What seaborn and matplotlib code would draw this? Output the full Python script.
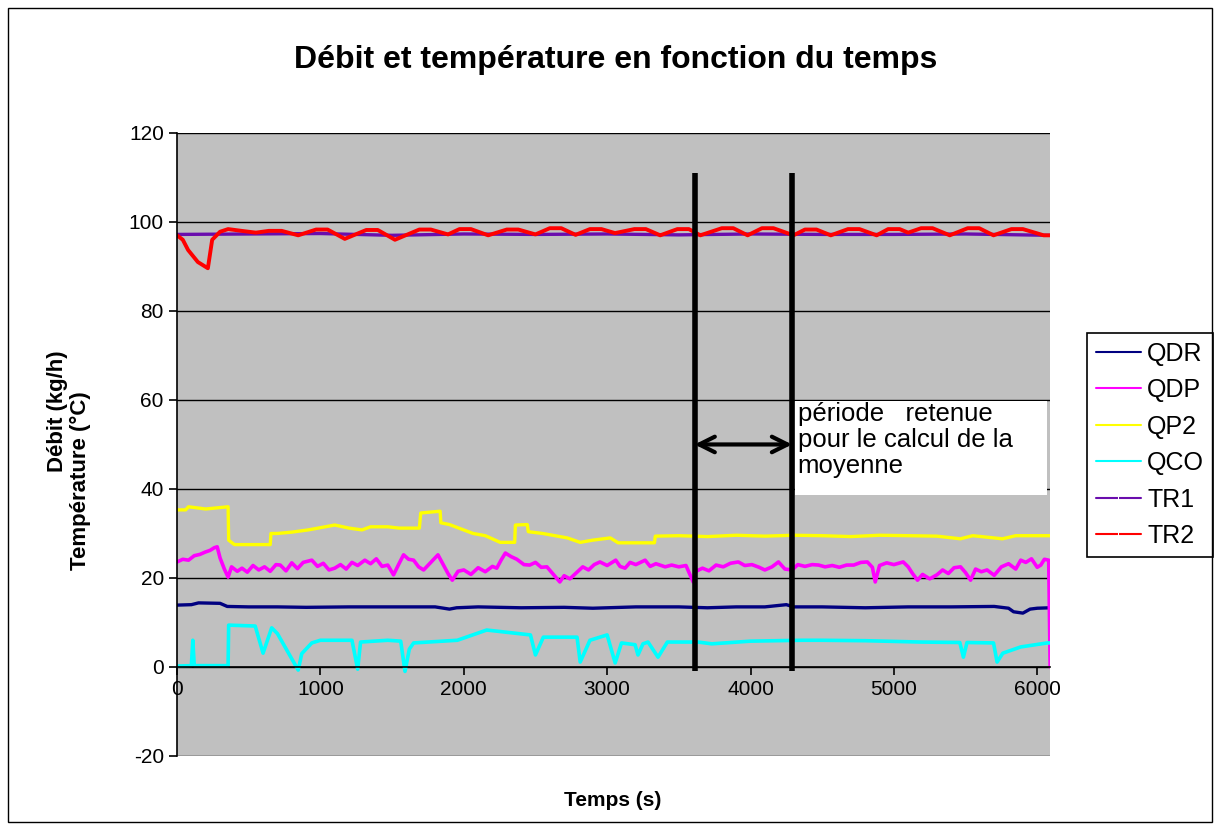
import matplotlib
matplotlib.use("Agg")
import matplotlib.pyplot as plt
from matplotlib.patches import Rectangle
import seaborn as sns
import pandas as pd

# QDR (navy)
qdr_t = [0, 100, 150, 300, 350, 500, 700, 900, 1200, 1500,
         1800, 1900, 1950, 2100, 2400, 2700, 2900, 3200, 3500, 3700,
         3900, 4100, 4250, 4300, 4500, 4800, 5100, 5400, 5700, 5800,
         5835, 5900, 5950, 6000, 6090]
qdr_v = [13.9, 14.0, 14.4, 14.3, 13.6, 13.5, 13.5, 13.4, 13.5, 13.5,
         13.5, 13.0, 13.3, 13.5, 13.3, 13.4, 13.2, 13.5, 13.5, 13.3,
         13.5, 13.5, 14.0, 13.5, 13.5, 13.3, 13.5, 13.5, 13.6, 13.2,
         12.4, 12.1, 13.0, 13.2, 13.3]

# QDP (magenta)
qdp_t = [0, 40, 80, 120, 160, 195, 230, 260, 280, 300,
         330, 356, 380, 420, 453, 490, 530, 570, 610, 650,
         690, 720, 760, 800, 840, 880, 940, 980, 1020, 1060,
         1100, 1140, 1180, 1220, 1260, 1310, 1350, 1390, 1430, 1470,
         1510, 1545, 1580, 1615, 1650, 1685, 1720, 1770, 1820, 1860,
         1890, 1920, 1960, 2000, 2050, 2100, 2150, 2200, 2230, 2260,
         2290, 2330, 2370, 2420, 2460, 2500, 2540, 2580, 2620, 2670,
         2700, 2740, 2790, 2830, 2870, 2910, 2950, 3000, 3060, 3090,
         3125, 3160, 3200, 3265, 3300, 3340, 3405, 3450, 3500, 3550,
         3600, 3620, 3665, 3710, 3760, 3810, 3860, 3915, 3960, 4010,
         4060, 4100, 4150, 4195, 4240, 4290, 4330, 4380, 4430, 4475,
         4520, 4570, 4620, 4670, 4720, 4770, 4815, 4850, 4870, 4900,
         4950, 5000, 5065, 5100, 5130, 5165, 5200, 5250, 5300, 5340,
         5380, 5420, 5465, 5500, 5535, 5570, 5610, 5650, 5700, 5750,
         5800, 5850, 5885, 5920, 5960, 6000, 6025, 6050, 6080, 6090]
qdp_v = [23.6, 24.2, 24.0, 25.0, 25.3, 25.8, 26.2, 26.8, 27.0, 24.5,
         22.0, 20.2, 22.5, 21.5, 22.2, 21.3, 22.8, 21.8, 22.5, 21.5,
         23.0, 22.9, 21.6, 23.4, 22.1, 23.5, 24.0, 22.6, 23.3, 21.8,
         22.2, 23.0, 22.0, 23.5, 22.8, 24.0, 23.2, 24.3, 22.6, 22.9,
         20.7, 23.0, 25.2, 24.2, 24.0, 22.5, 21.8, 23.5, 25.2, 22.8,
         21.0, 19.5, 21.5, 21.8, 20.8, 22.3, 21.4, 22.6, 22.2, 24.0,
         25.6, 24.8, 24.2, 23.0, 22.9, 23.5, 22.4, 22.5, 21.0, 19.1,
         20.5, 19.8, 21.3, 22.5, 21.8, 23.0, 23.6, 22.8, 24.0, 22.6,
         22.2, 23.5, 23.0, 24.0, 22.6, 23.2, 22.5, 22.9, 22.5, 22.8,
         19.1, 21.5, 22.2, 21.6, 22.9, 22.5, 23.3, 23.6, 22.8, 23.0,
         22.4, 21.8, 22.5, 23.6, 22.0, 21.8, 23.0, 22.6, 23.0, 22.9,
         22.5, 22.8, 22.4, 22.9, 22.9, 23.5, 23.6, 22.4, 19.1, 22.8,
         23.4, 23.0, 23.6, 22.5, 21.0, 19.5, 20.8, 19.8, 20.7, 21.8,
         21.0, 22.3, 22.5, 21.2, 19.5, 22.0, 21.4, 21.8, 20.6, 22.5,
         23.2, 22.0, 24.0, 23.5, 24.3, 22.4, 22.9, 24.2, 24.0, 0.0]

# QP2 (yellow)
qp2_t = [0, 60, 80, 200, 356, 360, 400, 500, 650, 655,
         700, 800, 915, 1000, 1100, 1200, 1290, 1350, 1470, 1550,
         1690, 1700, 1835, 1840, 1900, 2065, 2150, 2254, 2355, 2360,
         2443, 2450, 2550, 2722, 2812, 2900, 3022, 3077, 3330, 3336,
         3500, 3700, 3900, 4100, 4300, 4500, 4700, 4900, 5100, 5300,
         5464, 5550, 5757, 5850, 6000, 6090]
qp2_v = [35.3, 35.3, 36.0, 35.5, 36.0, 28.5, 27.5, 27.5, 27.5, 30.0,
         30.0, 30.3, 30.8, 31.3, 31.9, 31.2, 30.8, 31.5, 31.5, 31.2,
         31.2, 34.6, 35.0, 32.4, 32.0, 30.0, 29.5, 28.0, 28.0, 31.9,
         32.0, 30.4, 30.0, 29.0, 28.0, 28.5, 29.0, 27.9, 27.9, 29.4,
         29.5, 29.3, 29.6, 29.4, 29.6, 29.5, 29.3, 29.6, 29.5, 29.4,
         28.8, 29.5, 28.8, 29.5, 29.5, 29.5]

# QCO (cyan)
qco_t = [0, 100, 110, 120, 356, 360, 545, 600, 660, 700,
         845, 870, 940, 1000, 1220, 1260, 1280, 1470, 1560, 1590,
         1620, 1650, 1955, 2160, 2465, 2500, 2555, 2790, 2812, 2880,
         3000, 3056, 3100, 3195, 3215, 3250, 3285, 3355, 3420, 3635,
         3730, 4000, 4360, 4490, 4800, 5185, 5460, 5485, 5510, 5695,
         5720, 5760, 5885, 6070, 6090]
qco_v = [0.2, 0.3, 6.0, 0.3, 0.3, 9.4, 9.2, 3.1, 8.8, 7.5,
         -0.7, 3.0, 5.4, 6.0, 6.0, -0.5, 5.6, 6.0, 5.8, -1.0,
         4.0, 5.4, 6.0, 8.3, 7.2, 2.7, 6.7, 6.7, 1.1, 6.0,
         7.2, 0.9, 5.4, 5.0, 2.7, 5.2, 5.6, 2.2, 5.6, 5.6,
         5.2, 5.8, 6.0, 6.0, 5.9, 5.6, 5.5, 2.2, 5.5, 5.4,
         1.1, 3.1, 4.5, 5.4, 5.4]

# TR1 (purple)
tr1_t = [0, 500, 1000, 1500, 2000, 2500, 3000, 3500, 4000, 4500, 5000, 5500, 6090]
tr1_v = [97.2, 97.3, 97.4, 97.0, 97.3, 97.2, 97.3, 97.1, 97.3, 97.2, 97.2, 97.3, 97.0]

# TR2 (red)
tr2_t = [0, 40, 77, 145, 215, 245, 300, 356, 450, 550,
         640, 730, 845, 970, 1050, 1170, 1320, 1400, 1520, 1690,
         1770, 1890, 1970, 2050, 2170, 2300, 2380, 2500, 2600, 2680,
         2780, 2880, 2960, 3055, 3190, 3270, 3370, 3490, 3570, 3650,
         3800, 3880, 3980, 4080, 4160, 4300, 4380, 4460, 4560, 4680,
         4760, 4880, 4960, 5040, 5100, 5190, 5270, 5390, 5515, 5595,
         5695, 5820, 5900, 6045, 6090]
tr2_v = [97.0, 96.0, 93.7, 91.0, 89.6, 96.0, 97.8, 98.4, 98.0, 97.6,
         98.0, 98.0, 97.0, 98.3, 98.3, 96.2, 98.2, 98.2, 96.0, 98.3,
         98.3, 97.2, 98.4, 98.4, 97.0, 98.3, 98.3, 97.2, 98.6, 98.6,
         97.1, 98.4, 98.4, 97.5, 98.4, 98.4, 97.0, 98.4, 98.4, 97.0,
         98.6, 98.6, 97.0, 98.6, 98.6, 97.0, 98.3, 98.3, 97.0, 98.4,
         98.4, 97.0, 98.4, 98.4, 97.6, 98.6, 98.6, 97.0, 98.6, 98.6,
         97.0, 98.4, 98.4, 97.0, 97.0]

periode = [3610, 4290]

sns.set_theme(style="white")
plt.rcParams['font.family'] = ['Liberation Sans', 'DejaVu Sans']
plt.rcParams['axes.unicode_minus'] = False
plt.rcParams['text.color'] = 'black'
plt.rcParams['xtick.color'] = 'black'
plt.rcParams['ytick.color'] = 'black'
plt.rcParams['axes.labelcolor'] = 'black'

fig = plt.figure(figsize=(12.16, 8.30), dpi=100)
ax = fig.add_axes([0.1456, 0.0892, 0.718, 0.7506])
ax.set_facecolor('#C0C0C0')

series = [
    ("QDR", qdr_t, qdr_v, "#000080", 2.4),
    ("QDP", qdp_t, qdp_v, "#FF00FF", 2.6),
    ("QP2", qp2_t, qp2_v, "#FFFF00", 2.4),
    ("QCO", qco_t, qco_v, "#00FFFF", 2.6),
    ("TR1", tr1_t, tr1_v, "#6A0DAD", 2.4),
    ("TR2", tr2_t, tr2_v, "#FF0000", 2.8),
]
for name, t, v, c, w in series:
    df = pd.DataFrame({"t": t, "v": v})
    sns.lineplot(data=df, x="t", y="v", color=c, lw=w, label=name,
                 estimator=None, sort=False, ax=ax)

ax.set_xlim(0, 6090)
ax.set_ylim(-20, 120)
ax.set_xticks(range(0, 6001, 1000))
ax.set_yticks(range(-20, 121, 20))
ax.spines['bottom'].set_position(('data', 0))
ax.spines['top'].set_visible(False)
ax.spines['right'].set_visible(False)
for s in ['left', 'bottom']:
    ax.spines[s].set_color('black')
    ax.spines[s].set_linewidth(1.2)
ax.tick_params(axis='both', direction='out', length=6, width=1.2,
               color='black', labelcolor='black', labelsize=15,
               bottom=True, left=True)
ax.yaxis.grid(True, color='black', lw=1)
ax.set_axisbelow(True)
ax.set_xlabel('')
ax.set_ylabel('')

# période retenue
ax.vlines(periode, -1, 111, color='black', lw=4, zorder=6)
ax.annotate('', xy=(periode[0], 50), xytext=(periode[1], 50),
            arrowprops=dict(arrowstyle='<->', lw=3, color='black',
                            mutation_scale=28, shrinkA=0, shrinkB=0),
            zorder=6)
ax.add_patch(Rectangle((4313, 38.7), 1757, 21.1, facecolor='white',
                       edgecolor='none', zorder=7))
ax.text(4330, 59.6, "période   retenue\npour le calcul de la\nmoyenne",
        ha='left', va='top', fontsize=18.5, linespacing=1.12, zorder=8)

leg = ax.legend(loc='upper left', bbox_to_anchor=(0.894, 0.599),
                bbox_transform=fig.transFigure, frameon=True, fancybox=False,
                edgecolor='black', facecolor='white', framealpha=1,
                fontsize=18, handlelength=1.8, labelspacing=0.5,
                borderpad=0.35, handletextpad=0.25, borderaxespad=0)
leg.get_frame().set_linewidth(1.2)
for h in leg.legend_handles:
    h.set_linewidth(1.5)
for h in leg.legend_handles[4:]:
    h.set_marker('|')
    h.set_markevery([1])
    h.set_markersize(6)

fig.text(0.506, 0.928, "Débit et température en fonction du temps",
         fontsize=23, fontweight='bold', ha='center', va='center')
fig.text(0.504, 0.036, "Temps (s)", fontsize=15, fontweight='bold',
         ha='center', va='center')
fig.text(0.047, 1 - 411 / 830, "Débit (kg/h)", fontsize=16, fontweight='bold',
         rotation=90, ha='center', va='center')
fig.text(0.066, 1 - 481 / 830, "Température (°C)", fontsize=16, fontweight='bold',
         rotation=90, ha='center', va='center')

fig.add_artist(Rectangle((8 / 1216, 8 / 830), 1204 / 1216, 814 / 830,
                         transform=fig.transFigure, fill=False,
                         edgecolor='black', lw=1))

fig.savefig('out.png', dpi=100)
